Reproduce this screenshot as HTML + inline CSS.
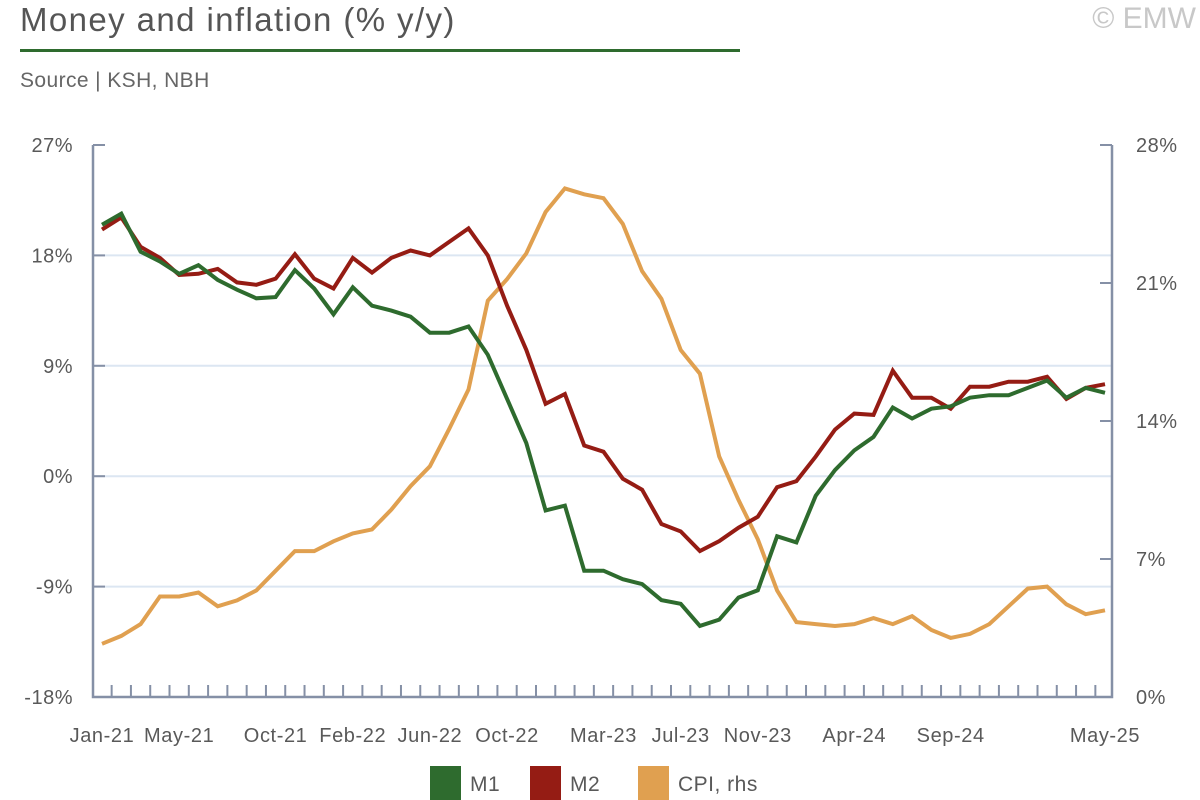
<!DOCTYPE html>
<html><head><meta charset="utf-8"><style>
body{margin:0;background:#fff;font-family:"Liberation Sans",sans-serif;color:#595959}
#wrap{position:relative;width:1200px;height:800px;overflow:hidden}
.t{position:absolute;white-space:nowrap}
</style></head><body>
<div id="wrap">
<div class="t" style="left:20px;top:1px;font-size:33px;letter-spacing:1.4px;color:#555">Money and inflation (% y/y)</div>
<div style="position:absolute;left:20px;top:49px;width:720px;height:3px;background:#2e6b2e"></div>
<div class="t" style="left:20px;top:69px;font-size:21px;letter-spacing:0.4px;color:#666">Source | KSH, NBH</div>
<div class="t" style="right:4px;top:2px;font-size:30px;color:#c8c8c8">© EMW</div>
<svg id="chart" width="1200" height="800" style="position:absolute;left:0;top:0"></svg>
</div>
<script>
const months=["Jan-21","Feb-21","Mar-21","Apr-21","May-21","Jun-21","Jul-21","Aug-21","Sep-21","Oct-21","Nov-21","Dec-21","Jan-22","Feb-22","Mar-22","Apr-22","May-22","Jun-22","Jul-22","Aug-22","Sep-22","Oct-22","Nov-22","Dec-22","Jan-23","Feb-23","Mar-23","Apr-23","May-23","Jun-23","Jul-23","Aug-23","Sep-23","Oct-23","Nov-23","Dec-23","Jan-24","Feb-24","Mar-24","Apr-24","May-24","Jun-24","Jul-24","Aug-24","Sep-24","Oct-24","Nov-24","Dec-24","Jan-25","Feb-25","Mar-25","Apr-25","May-25"];
const xLabelIdx=[0,4,9,13,17,21,26,30,34,39,44,52];
const m1=[20.5,21.4,18.3,17.5,16.5,17.2,16.0,15.2,14.5,14.6,16.8,15.3,13.2,15.4,13.9,13.5,13.0,11.7,11.7,12.2,9.9,6.3,2.7,-2.8,-2.4,-7.7,-7.7,-8.4,-8.8,-10.1,-10.4,-12.2,-11.7,-9.9,-9.3,-4.9,-5.4,-1.6,0.5,2.1,3.2,5.6,4.7,5.5,5.7,6.4,6.6,6.6,7.2,7.8,6.4,7.2,6.8];
const m2=[20.1,21.1,18.7,17.8,16.4,16.5,16.9,15.8,15.6,16.1,18.1,16.1,15.3,17.8,16.6,17.8,18.4,18.0,19.1,20.2,18.0,13.9,10.3,5.9,6.7,2.5,2.0,-0.2,-1.1,-3.9,-4.5,-6.1,-5.3,-4.2,-3.3,-0.9,-0.4,1.6,3.8,5.1,5.0,8.6,6.4,6.4,5.5,7.3,7.3,7.7,7.7,8.1,6.3,7.2,7.5];
const cpi=[2.7,3.1,3.7,5.1,5.1,5.3,4.6,4.9,5.4,6.4,7.4,7.4,7.9,8.3,8.5,9.5,10.7,11.7,13.6,15.6,20.1,21.2,22.5,24.6,25.8,25.5,25.3,24.0,21.6,20.2,17.6,16.4,12.2,10.0,8.0,5.4,3.8,3.7,3.6,3.7,4.0,3.7,4.1,3.4,3.0,3.2,3.7,4.6,5.5,5.6,4.7,4.2,4.4];
const leftTicks=[27,18,9,0,-9,-18];
const rightTicks=[28,21,14,7,0];

const svg=document.getElementById('chart');
const NS='http://www.w3.org/2000/svg';
const L=93,R=1112,T=145,B=697;
const x0=102,dx=(1105-102)/(months.length-1);
const xs=i=>x0+i*dx;
const yl=v=>T+(27-v)/45*(B-T);
const yr=v=>T+(28-v)/28*(B-T);
function mk(tag,attrs){const e=document.createElementNS(NS,tag);for(const k in attrs)e.setAttribute(k,attrs[k]);svg.appendChild(e);return e;}

leftTicks.forEach(v=>{
  const y=yl(v);
  if(v!==27&&v!==-18){const g=mk('line',{x1:L,x2:R,y1:y,y2:y,stroke:'#dce6f2','stroke-width':2});
  
  }
  const tk=mk('line',{x1:L,x2:L+12,y1:y,y2:y,stroke:'#8590a6','stroke-width':2});
  
  
  const t=mk('text',{x:L-20,y:y+7,'text-anchor':'end','font-size':20,'letter-spacing':0.5,fill:'#595959'});
  t.textContent=v+'%';
  
  
});
rightTicks.forEach(v=>{
  const y=yr(v);
  const tk=mk('line',{x1:R-12,x2:R,y1:y,y2:y,stroke:'#8590a6','stroke-width':2});
  
  
  const t=mk('text',{x:R+24,y:y+7,'text-anchor':'start','font-size':20,'letter-spacing':0.5,fill:'#595959'});
  t.textContent=v+'%';
  
  
});
for(let i=0;i<=months.length;i++){
  const x=xs(i)-dx/2;
  if(x<L+2||x>R-2)continue;
  const tk=mk('line',{x1:x,x2:x,y1:B,y2:B-12,stroke:'#8590a6','stroke-width':2});
  
  
}
const ax=mk('path',{d:`M${L},${T} V${B} H${R} V${T}`,fill:'none',stroke:'#8590a6','stroke-width':2.5});


xLabelIdx.forEach(i=>{
  const t=mk('text',{x:xs(i),y:742,'text-anchor':'middle','font-size':20,'letter-spacing':0.6,fill:'#595959'});
  t.textContent=months[i];
  
  
});
function line(data,yf,color,name){
  const p=mk('polyline',{points:data.map((v,i)=>xs(i).toFixed(1)+','+yf(v).toFixed(1)).join(' '),fill:'none',stroke:color,'stroke-width':4,'stroke-linejoin':'miter'});
  
  
}
line(cpi,yr,'#e0a050','cpi-line');
line(m2,yl,'#951c14','m2-line');
line(m1,yl,'#2e6b2e','m1-line');

const legend=[['M1','#2e6b2e',430],['M2','#951c14',530],['CPI, rhs','#e0a050',638]];
legend.forEach(([lab,c,x])=>{
  const r=mk('rect',{x:x,y:766,width:31,height:34,fill:c});
  
  
  const t=mk('text',{x:x+40,y:791,'font-size':21,'letter-spacing':0.5,fill:'#595959'});
  t.textContent=lab;
  
  
});
</script>
</body></html>
